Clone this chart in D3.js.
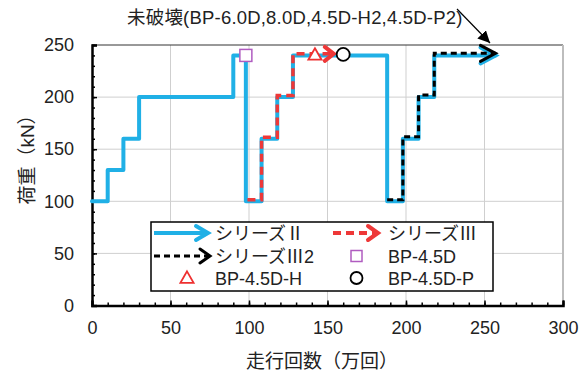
<!DOCTYPE html>
<html>
<head>
<meta charset="utf-8">
<script src="https://cdn.jsdelivr.net/npm/d3@7"></script>
<style>
  html, body { margin: 0; padding: 0; background: #fff; }
  svg text { font-family: "Liberation Sans", Arial, "Noto Sans CJK JP", sans-serif; fill: #222; }
</style>
</head>
<body>
<svg id="chart" width="584" height="374"></svg>
<script>
// ---- data ----
const xTickValues = [0, 50, 100, 150, 200, 250, 300];
const yTickValues = [0, 50, 100, 150, 200, 250];
const xMinorTicks = d3.range(0, 301, 10);
const yMinorTicks = d3.range(0, 251, 10);

// シリーズⅡ (solid blue)
const seriesII = [[0,100],[10,100],[10,130],[20,130],[20,160],[30,160],[30,200],[90,200],[90,240],[98,240],[98,100],
  [108,100],[108,160],[118,160],[118,200],[128,200],[128,240],[188,240],[188,100],[198,100],[198,160],[208,160],
  [208,200],[218,200],[218,240],[257,240]];
// シリーズⅢ (red dashed)
const seriesIII = [[99,101.5],[108,101.5],[108,161.5],[118,161.5],[118,201.5],[128,201.5],[128,241.5],[154,241.5]];
// シリーズⅢ2 (black dashed)
const seriesIII2 = [[188,101.5],[198,101.5],[198,162],[208,162],[208,202],[218,202],[218,242],[257,242]];

const pointBP45D = [98, 240];
const pointBP45DH = [142, 240.5];
const pointBP45DP = [160, 241];

const legendLabels = ["シリーズⅡ", "シリーズⅢ", "シリーズⅢ2", "BP-4.5D", "BP-4.5D-H", "BP-4.5D-P"];
const noteText = "未破壊(BP-6.0D,8.0D,4.5D-H2,4.5D-P2)";
const xTitle = "走行回数（万回）";
const yTitle = "荷重（kN）";

// ---- layout ----
const svg = d3.select("#chart");
const X0 = 92, X1 = 563, Y0 = 305.5, Y1 = 45;
const x = d3.scaleLinear().domain([0, 300]).range([X0, X1]);
const y = d3.scaleLinear().domain([0, 250]).range([Y0, Y1]);

const BLUE = "#20b0e6", RED = "#ee3838";

// gridlines
svg.append("g").selectAll("line").data(xTickValues.filter(d => d > 0 && d < 300)).join("line")
  .attr("x1", d => x(d)).attr("x2", d => x(d)).attr("y1", Y0).attr("y2", Y1)
  .attr("stroke", "#cfcfcf").attr("stroke-width", 1);
svg.append("g").selectAll("line").data(yTickValues.filter(d => d > 0 && d < 250)).join("line")
  .attr("y1", d => y(d)).attr("y2", d => y(d)).attr("x1", X0).attr("x2", X1)
  .attr("stroke", "#cfcfcf").attr("stroke-width", 1);
// frame
svg.append("line").attr("x1", X0).attr("x2", X1).attr("y1", Y1).attr("y2", Y1).attr("stroke", "#333").attr("stroke-width", 1);
svg.append("line").attr("x1", X1).attr("x2", X1).attr("y1", Y1).attr("y2", Y0).attr("stroke", "#bdbdbd").attr("stroke-width", 2);

// axes
const fs = "18px";
svg.append("g").attr("transform", `translate(0,${Y0})`)
  .call(d3.axisBottom(x).tickValues(xTickValues).tickSize(-5).tickPadding(16).tickFormat(d3.format("d")));
svg.append("g").attr("transform", `translate(0,${Y0})`)
  .call(d3.axisBottom(x).tickValues(xMinorTicks).tickSize(-3).tickFormat(""))
  .call(g => g.select(".domain").remove());
svg.append("g").attr("transform", `translate(${X0},0)`)
  .call(d3.axisLeft(y).tickValues(yTickValues).tickSize(-5).tickPadding(18).tickFormat(d3.format("d")));
svg.append("g").attr("transform", `translate(${X0},0)`)
  .call(d3.axisLeft(y).tickValues(yMinorTicks).tickSize(-3).tickFormat(""))
  .call(g => g.select(".domain").remove());
svg.selectAll(".tick line").attr("stroke", "#000").attr("stroke-width", 1.5);
svg.selectAll(".domain").attr("stroke", "#000").attr("stroke-width", 2.5);
svg.selectAll(".tick text").attr("font-size", fs).attr("fill", "#222")
  .style("font-family", '"Liberation Sans", Arial, sans-serif');

// titles
svg.append("text").attr("x", 322).attr("y", 368).attr("text-anchor", "middle").attr("font-size", "19px").text(xTitle);
svg.append("text").attr("transform", "translate(34,155) rotate(-90)").attr("text-anchor", "middle").attr("font-size", "19px").text(yTitle);

// series
const line = d3.line().x(d => x(d[0])).y(d => y(d[1]));
function chevron(p, len, half) {
  const tx = x(p[0]), ty = y(p[1]);
  return `M${tx - len},${ty - half}L${tx},${ty}L${tx - len},${ty + half}`;
}
svg.append("path").datum(seriesII).attr("d", line).attr("fill", "none")
  .attr("stroke", BLUE).attr("stroke-width", 4).attr("stroke-linejoin", "round").attr("stroke-linecap", "round");
svg.append("path").attr("d", chevron(seriesII[seriesII.length - 1], 15, 8)).attr("fill", "none")
  .attr("stroke", BLUE).attr("stroke-width", 4).attr("stroke-linejoin", "miter").attr("stroke-linecap", "round");

svg.append("path").datum(seriesIII).attr("d", line).attr("fill", "none")
  .attr("stroke", RED).attr("stroke-width", 3.5).attr("stroke-dasharray", "8,5");
svg.append("path").attr("d", chevron(seriesIII[seriesIII.length - 1], 9, 7)).attr("fill", "none")
  .attr("stroke", RED).attr("stroke-width", 4).attr("stroke-linecap", "round");

svg.append("path").datum(seriesIII2).attr("d", line).attr("fill", "none")
  .attr("stroke", "#000").attr("stroke-width", 3).attr("stroke-dasharray", "6,4");
svg.append("path").attr("d", chevron(seriesIII2[seriesIII2.length - 1], 15, 8)).attr("fill", "none")
  .attr("stroke", "#000").attr("stroke-width", 3).attr("stroke-linecap", "round");

// markers
svg.append("rect").attr("x", x(pointBP45D[0]) - 6).attr("y", y(pointBP45D[1]) - 6).attr("width", 12).attr("height", 12)
  .attr("fill", "#fff").attr("stroke", "#b05cc0").attr("stroke-width", 1.5);
const tri = d3.symbol().type(d3.symbolTriangle).size(75);
svg.append("path").attr("d", tri()).attr("transform", `translate(${x(pointBP45DH[0])},${y(pointBP45DH[1]) + 1})`)
  .attr("fill", "#fff").attr("stroke", "#ee3030").attr("stroke-width", 1.8);
svg.append("circle").attr("cx", x(pointBP45DP[0])).attr("cy", y(pointBP45DP[1])).attr("r", 6.5)
  .attr("fill", "#fff").attr("stroke", "#000").attr("stroke-width", 1.8);

// annotation
svg.append("text").attr("x", 127).attr("y", 24).attr("font-size", "18.5px").attr("letter-spacing", "0.2px").text(noteText);
svg.append("defs").append("marker").attr("id", "ah").attr("viewBox", "0 0 10 10").attr("refX", 10).attr("refY", 5)
  .attr("markerWidth", 12).attr("markerHeight", 12).attr("markerUnits", "userSpaceOnUse").attr("orient", "auto")
  .append("path").attr("d", "M0,0L10,5L0,10Z").attr("fill", "#000");
svg.append("line").attr("x1", 457).attr("y1", 9).attr("x2", 490).attr("y2", 43)
  .attr("stroke", "#000").attr("stroke-width", 1.2).attr("marker-end", "url(#ah)");

// legend
const lg = svg.append("g");
lg.append("rect").attr("x", 151).attr("y", 222).attr("width", 342).attr("height", 69)
  .attr("fill", "#fff").attr("stroke", "#000").attr("stroke-width", 1.5);
const rows = [233, 256, 278];
const colTxt = [215, 388];
function legArrow(x0, x1, yy, color, w, dash, len, half) {
  lg.append("line").attr("x1", x0).attr("x2", x1 - 2).attr("y1", yy).attr("y2", yy)
    .attr("stroke", color).attr("stroke-width", w).attr("stroke-dasharray", dash);
  lg.append("path").attr("d", `M${x1 - len},${yy - half}L${x1},${yy}L${x1 - len},${yy + half}`)
    .attr("fill", "none").attr("stroke", color).attr("stroke-width", w).attr("stroke-linecap", "round");
}
legArrow(154, 208, rows[0], BLUE, 4, null, 12, 7);
legArrow(333, 378, rows[0], RED, 4, "8,5", 10, 7);
legArrow(154, 210, rows[1], "#000", 3, "6,4", 10, 7);
lg.append("rect").attr("x", 351).attr("y", rows[1] - 5.5).attr("width", 11).attr("height", 11)
  .attr("fill", "#fff").attr("stroke", "#b05cc0").attr("stroke-width", 1.5);
lg.append("path").attr("d", tri()).attr("transform", `translate(187,${rows[2] + 1})`)
  .attr("fill", "#fff").attr("stroke", "#ee3030").attr("stroke-width", 1.8);
lg.append("circle").attr("cx", 356.5).attr("cy", rows[2]).attr("r", 6).attr("fill", "#fff")
  .attr("stroke", "#000").attr("stroke-width", 1.8);
const legPos = [[0,0],[1,0],[0,1],[1,1],[0,2],[1,2]];
legendLabels.forEach((t, i) => {
  lg.append("text").attr("x", colTxt[legPos[i][0]]).attr("y", rows[legPos[i][1]] + 6.5)
    .attr("font-size", "18px").text(t);
});
</script>
</body>
</html>
